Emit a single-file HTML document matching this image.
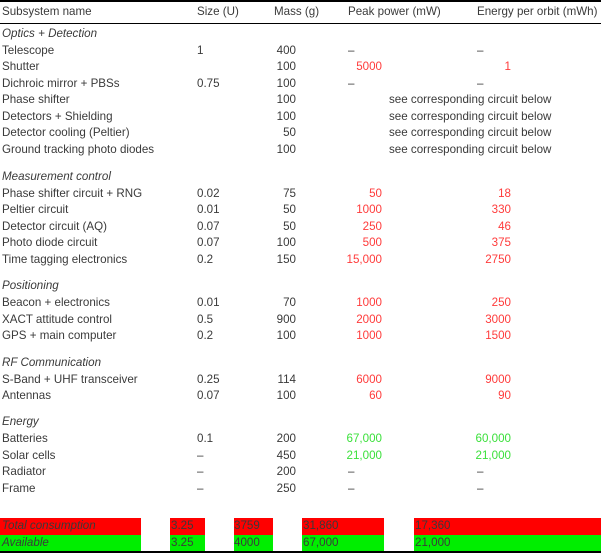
<!DOCTYPE html>
<html><head><meta charset="utf-8"><style>
html,body{margin:0;padding:0;background:#fff}
#t{position:relative;width:601px;height:553px;overflow:hidden;font-family:"Liberation Sans",sans-serif;font-size:11.6px;color:#3a3a3a}
.c{position:absolute;white-space:nowrap;line-height:16px;height:16px}
.r{text-align:right}
.red{color:#ff3b3b}.grn{color:#3be03b}
.it{font-style:italic}
.rule{position:absolute;left:0;width:601px;background:#000}
.bar{position:absolute;height:16.5px}
</style></head><body>
<div id="t">
<div class="rule" style="top:0;height:2px"></div>
<div class="rule" style="top:23px;height:1px"></div>
<div class="rule" style="top:551px;height:2px"></div>
</div>
<script>
const T=document.getElementById('t');
function cell(txt,x,y,cls,right){const d=document.createElement('div');d.className='c '+(cls||'')+(right?' r':'');d.textContent=txt;
if(right){d.style.right=(601-x)+'px';}else d.style.left=x+'px';d.style.top=(y-8)+'px';


T.appendChild(d);return d;}
function bar(x,w,y,col){const b=document.createElement('div');b.className='bar';b.style.left=x+'px';b.style.width=w+'px';b.style.top=y+'px';b.style.background=col;


T.appendChild(b);}
cell('Subsystem name',2,12);cell('Size (U)',197,12);cell('Mass (g)',274,12);cell('Peak power (mW)',348,12);cell('Energy per orbit (mWh)',477,12);
const sections=[['Optics + Detection',34],['Measurement control',177],['Positioning',286],['RF Communication',363],['Energy',422]];
sections.forEach(s=>cell(s[0],2,s[1],'it'));
const rows=[
['Telescope',51,'1','400','d','d',''],
['Shutter',67,'','100','5000','1','red'],
['Dichroic mirror + PBSs',84,'0.75','100','d','d',''],
['Phase shifter',100,'','100','see','',''],
['Detectors + Shielding',117,'','100','see','',''],
['Detector cooling (Peltier)',133,'','50','see','',''],
['Ground tracking photo diodes',150,'','100','see','',''],
['Phase shifter circuit + RNG',194,'0.02','75','50','18','red'],
['Peltier circuit',210,'0.01','50','1000','330','red'],
['Detector circuit (AQ)',227,'0.07','50','250','46','red'],
['Photo diode circuit',243,'0.07','100','500','375','red'],
['Time tagging electronics',260,'0.2','150','15,000','2750','red'],
['Beacon + electronics',303,'0.01','70','1000','250','red'],
['XACT attitude control',320,'0.5','900','2000','3000','red'],
['GPS + main computer',336,'0.2','100','1000','1500','red'],
['S-Band + UHF transceiver',380,'0.25','114','6000','9000','red'],
['Antennas',396,'0.07','100','60','90','red'],
['Batteries',439,'0.1','200','67,000','60,000','grn'],
['Solar cells',456,'–','450','21,000','21,000','grn'],
['Radiator',472,'–','200','d','d',''],
['Frame',489,'–','250','d','d','']];
rows.forEach(r=>{
 cell(r[0],2,r[1]);
 if(r[2])cell(r[2],197,r[1]);
 cell(r[3],296,r[1],'',true);
 if(r[4]==='see'){cell('see corresponding circuit below',389,r[1]);}
 else{
  if(r[4]==='d')cell('–',348,r[1]);else cell(r[4],382,r[1],r[6],true);
  if(r[5]==='d')cell('–',477,r[1]);else if(r[5])cell(r[5],511,r[1],r[6],true);
 }
});
bar(0,141,518,'#ff0000');bar(170,35,518,'#ff0000');bar(234,39,518,'#ff0000');bar(302,82,518,'#ff0000');bar(414,187,518,'#ff0000');
bar(0,141,534.5,'#00ee00');bar(170,35,534.5,'#00ee00');bar(234,39,534.5,'#00ee00');bar(302,82,534.5,'#00ee00');bar(414,187,534.5,'#00ee00');
[['Total consumption','3.25','3759','31,860','17,360',526],['Available','3.25','4000','67,000','21,000',543]].forEach(t=>{
 cell(t[0],2,t[5],'it');cell(t[1],171,t[5]);cell(t[2],234,t[5]);cell(t[3],303,t[5]);cell(t[4],415,t[5]);
});
</script>
</body></html>
